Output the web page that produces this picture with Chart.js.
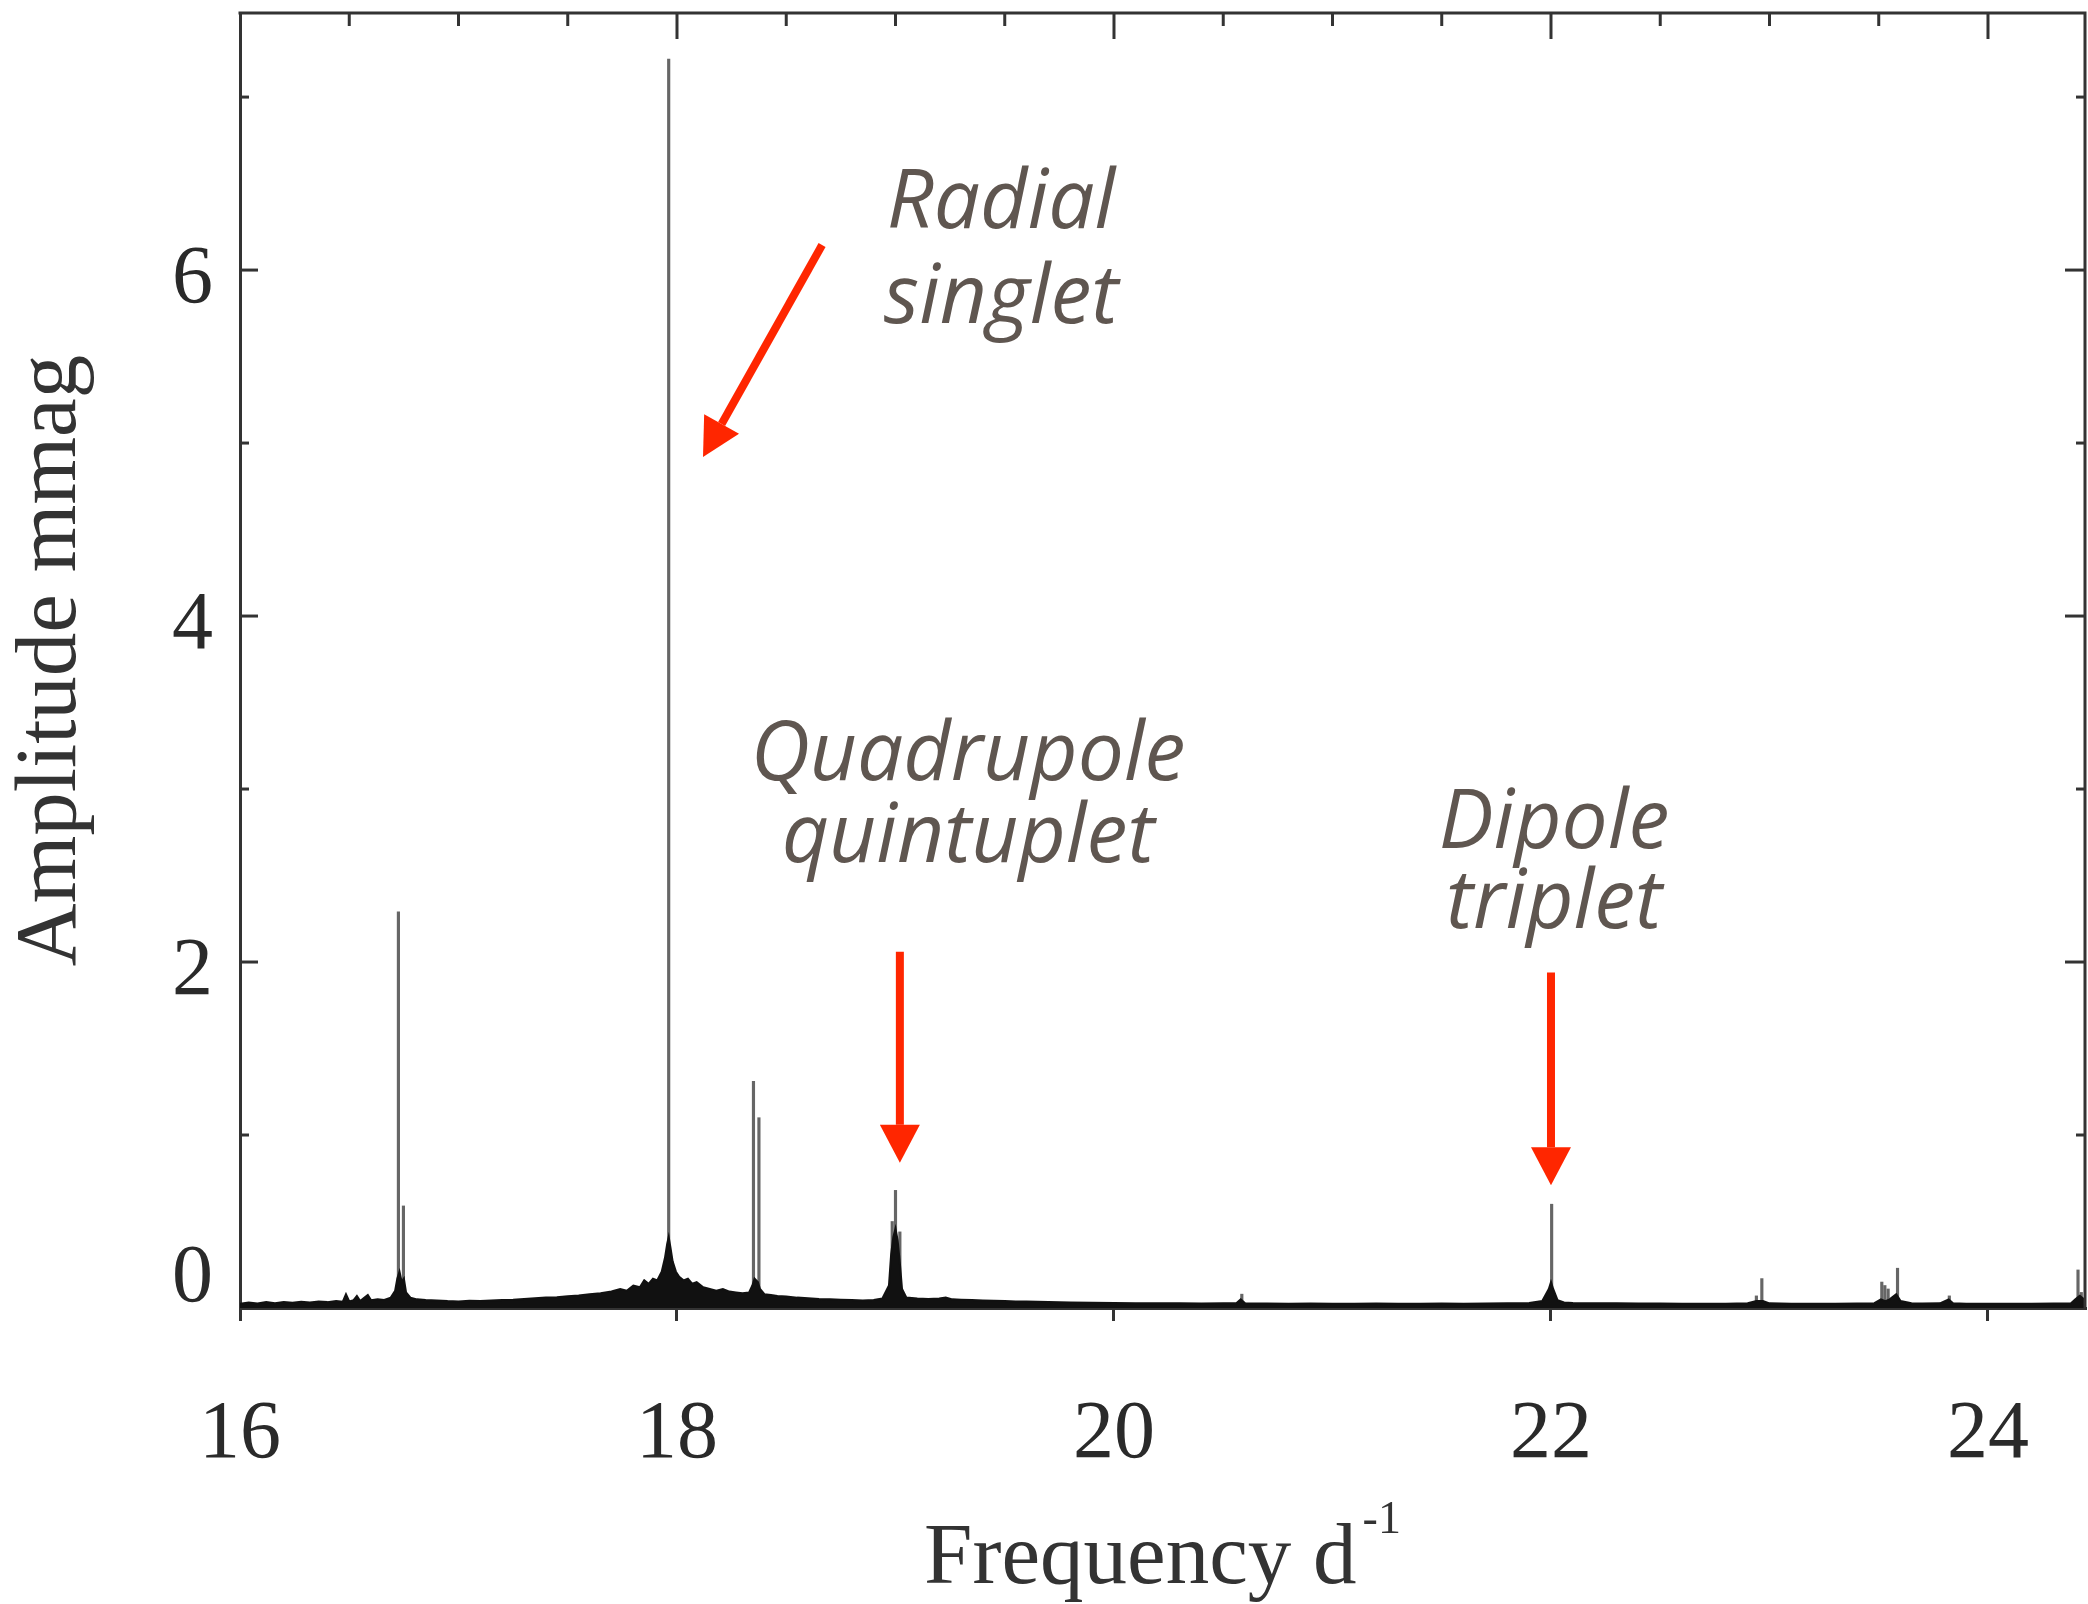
<!DOCTYPE html>
<html>
<head>
<meta charset="utf-8">
<script src="https://cdn.jsdelivr.net/npm/chart.js@4.4.0/dist/chart.umd.min.js"></script>
<style>
  html, body { margin: 0; padding: 0; background: #ffffff; }
  #wrap { width: 2088px; height: 1604px; position: relative; }
</style>
</head>
<body>
<div id="wrap"><canvas id="c"></canvas></div>
<script>
// ---------------- data ----------------
// Resolved pulsation peaks: frequency (d^-1) and amplitude (mmag)
const peakFreq = [16.725, 16.748, 17.962, 18.350, 18.375, 18.985, 19.000, 19.020, 20.585,
                  22.003, 22.940, 22.965, 23.514, 23.528, 23.543, 23.586, 23.823, 24.412, 24.427];
const peakAmp  = [2.29, 0.59, 7.22, 1.31, 1.10, 0.50, 0.68, 0.44, 0.08,
                  0.60, 0.07, 0.17, 0.15, 0.13, 0.11, 0.23, 0.07, 0.22, 0.09];

// Upper edge of the dense noise band / spectral-window skirts
const noiseFreq = [16.00,16.04,16.08,16.12,16.16,16.20,16.24,16.28,16.32,16.36,16.40,16.44,16.47,16.485,16.50,16.52,16.535,16.55,16.57,16.585,
                   16.60,16.63,16.66,16.69,16.71,16.72,16.73,16.74,16.75,16.76,16.78,16.81,16.85,16.90,16.95,17.00,17.05,17.10,17.15,17.20,
                   17.25,17.30,17.35,17.40,17.45,17.50,17.55,17.60,17.65,17.70,17.74,17.77,17.80,17.83,17.85,17.87,17.89,17.91,17.93,17.945,
                   17.955,17.962,17.97,17.98,17.995,18.01,18.03,18.05,18.07,18.09,18.12,18.15,18.18,18.21,18.24,18.27,18.30,18.33,18.345,18.355,
                   18.37,18.38,18.40,18.43,18.46,18.50,18.55,18.60,18.65,18.70,18.75,18.80,18.85,18.90,18.94,18.97,18.98,18.99,19.00,19.01,
                   19.02,19.03,19.05,19.10,19.15,19.20,19.23,19.26,19.30,19.35,19.40,19.45,19.50,19.55,19.60,19.70,19.80,19.90,20.00,20.10,
                   20.20,20.30,20.40,20.50,20.56,20.58,20.60,20.70,20.80,20.90,21.00,21.10,21.20,21.30,21.40,21.50,21.60,21.70,21.80,21.90,
                   21.96,21.99,22.00,22.01,22.03,22.06,22.10,22.20,22.30,22.40,22.50,22.60,22.70,22.80,22.90,22.94,22.97,23.00,23.10,23.20,
                   23.30,23.40,23.48,23.51,23.53,23.55,23.58,23.60,23.65,23.70,23.78,23.82,23.84,23.90,24.00,24.10,24.20,24.30,24.38,24.40,
                   24.42,24.44];
const noiseAmp  = [0.025,0.032,0.026,0.034,0.028,0.035,0.030,0.036,0.032,0.038,0.034,0.040,0.036,0.080,0.038,0.045,0.070,0.040,0.060,0.075,
                   0.045,0.050,0.046,0.060,0.100,0.170,0.210,0.150,0.170,0.090,0.060,0.050,0.046,0.044,0.040,0.038,0.042,0.040,0.044,0.046,
                   0.048,0.052,0.056,0.060,0.062,0.068,0.072,0.080,0.086,0.095,0.110,0.100,0.130,0.120,0.160,0.140,0.170,0.160,0.210,0.290,
                   0.370,0.410,0.350,0.270,0.210,0.180,0.160,0.170,0.140,0.150,0.120,0.110,0.100,0.110,0.095,0.090,0.085,0.090,0.130,0.170,
                   0.150,0.110,0.080,0.075,0.070,0.066,0.060,0.056,0.052,0.050,0.048,0.046,0.044,0.046,0.055,0.130,0.310,0.410,0.460,0.390,
                   0.260,0.110,0.060,0.055,0.052,0.055,0.060,0.050,0.048,0.046,0.044,0.042,0.040,0.038,0.037,0.035,0.032,0.030,0.029,0.028,
                   0.028,0.027,0.026,0.027,0.027,0.050,0.027,0.026,0.025,0.026,0.025,0.025,0.026,0.025,0.025,0.026,0.025,0.026,0.027,0.029,
                   0.040,0.110,0.150,0.110,0.045,0.032,0.029,0.027,0.027,0.026,0.026,0.025,0.025,0.025,0.027,0.040,0.040,0.027,0.025,0.025,
                   0.025,0.026,0.028,0.050,0.040,0.050,0.080,0.040,0.028,0.026,0.027,0.050,0.027,0.025,0.025,0.025,0.025,0.026,0.028,0.050,
                   0.070,0.050];

// Axis ticks
const xTickValues   = [16, 18, 20, 22, 24];
const xMinorTicks   = [16.5, 17, 17.5, 18.5, 19, 19.5, 20.5, 21, 21.5, 22.5, 23, 23.5, 24.5];
const yTickValues   = [0, 2, 4, 6];
const yMinorTicks   = [1, 3, 5, 7];

// Annotations (data coordinates)
const annLines  = [['Radial', 'singlet'], ['Quadrupole', 'quintuplet'], ['Dipole', 'triplet']];
const annX      = [19.483, 19.332, 22.014];
const annY1     = [6.243, 3.052, 2.659];
const annY2     = [5.694, 2.578, 2.197];
const arrowFromX = [18.664, 19.020, 22.000];
const arrowFromY = [6.145, 2.060, 1.940];
const arrowToX   = [18.119, 19.020, 22.000];
const arrowToY   = [4.919, 0.840, 0.710];

// ---------------- chart ----------------
const SERIF = "'Liberation Serif', 'DejaVu Serif', serif";
const AXIS_COLOR = '#333333';

const noisePoints = noiseFreq.map((f, i) => ({ x: f, y: noiseAmp[i] }));
const peakPoints  = peakFreq.map((f, i) => ({ x: f, y: peakAmp[i] }));

const decorPlugin = {
  id: 'decor',
  afterDraw(chart) {
    const { ctx, chartArea: a, scales: { x, y } } = chart;
    ctx.save();
    // frame: top and right
    ctx.strokeStyle = AXIS_COLOR;
    ctx.lineWidth = 3;
    ctx.lineCap = 'butt';
    ctx.beginPath();
    ctx.moveTo(a.left - 1.5, a.top);
    ctx.lineTo(a.right, a.top);
    ctx.lineTo(a.right, a.bottom + 1.5);
    ctx.stroke();
    // inward ticks on top
    const tick = (x1, y1, x2, y2) => { ctx.beginPath(); ctx.moveTo(x1, y1); ctx.lineTo(x2, y2); ctx.stroke(); };
    xTickValues.forEach(v => { const p = x.getPixelForValue(v); if (p > a.left + 2 && p < a.right - 2) tick(p, a.top, p, a.top + 26); });
    xMinorTicks.forEach(v => { const p = x.getPixelForValue(v); if (p > a.left + 2 && p < a.right - 2) tick(p, a.top, p, a.top + 13); });
    // inward ticks left and right
    yTickValues.forEach(v => { const p = y.getPixelForValue(v); if (p < a.bottom - 2) { tick(a.left, p, a.left + 18, p); tick(a.right, p, a.right - 20, p); } });
    yMinorTicks.forEach(v => { const p = y.getPixelForValue(v); tick(a.left, p, a.left + 9, p); tick(a.right, p, a.right - 9, p); });

    // x axis title with superscript
    const main = 'Frequency d';
    const sup = '-1';
    ctx.fillStyle = AXIS_COLOR;
    ctx.textBaseline = 'alphabetic';
    ctx.textAlign = 'left';
    ctx.font = '87px ' + SERIF;
    const w1 = ctx.measureText(main).width;
    ctx.font = '46px ' + SERIF;
    const w2 = ctx.measureText(sup).width;
    const total = w1 + 6 + w2;
    const cx = (a.left + a.right) / 2;
    const base = x.bottom - 21;
    ctx.font = '87px ' + SERIF;
    ctx.fillText(main, cx - total / 2, base);
    ctx.font = '46px ' + SERIF;
    ctx.fillText(sup, cx - total / 2 + w1 + 6, base - 50);

    // annotations
    ctx.fillStyle = '#5f5650';
    ctx.font = "italic 500 82px 'Open Sans', Lato, sans-serif";
    ctx.textAlign = 'center';
    annLines.forEach((lines, i) => {
      const px = x.getPixelForValue(annX[i]);
      ctx.fillText(lines[0], px, y.getPixelForValue(annY1[i]));
      ctx.fillText(lines[1], px, y.getPixelForValue(annY2[i]));
    });

    // arrows
    ctx.strokeStyle = '#ff2600';
    ctx.fillStyle = '#ff2600';
    ctx.lineWidth = 8;
    arrowFromX.forEach((fx, i) => {
      const x0 = x.getPixelForValue(fx), y0 = y.getPixelForValue(arrowFromY[i]);
      const x1 = x.getPixelForValue(arrowToX[i]), y1 = y.getPixelForValue(arrowToY[i]);
      const ang = Math.atan2(y1 - y0, x1 - x0);
      const headLen = 38, headHalf = 20;
      const bx = x1 - headLen * Math.cos(ang), by = y1 - headLen * Math.sin(ang);
      ctx.beginPath(); ctx.moveTo(x0, y0); ctx.lineTo(bx, by); ctx.stroke();
      ctx.beginPath();
      ctx.moveTo(x1, y1);
      ctx.lineTo(bx + headHalf * Math.sin(ang), by - headHalf * Math.cos(ang));
      ctx.lineTo(bx - headHalf * Math.sin(ang), by + headHalf * Math.cos(ang));
      ctx.closePath();
      ctx.fill();
    });
    ctx.restore();
  }
};

new Chart(document.getElementById('c'), {
  type: 'bar',
  data: {
    datasets: [
      {
        type: 'line',
        label: 'Noise',
        data: noisePoints,
        borderColor: '#111111',
        backgroundColor: '#111111',
        borderWidth: 2,
        pointRadius: 0,
        tension: 0,
        fill: 'origin',
        order: 0
      },
      {
        type: 'bar',
        label: 'Peaks',
        data: peakPoints,
        backgroundColor: '#666666',
        borderWidth: 0,
        barThickness: 2.5,
        order: 1
      }
    ]
  },
  options: {
    responsive: true,
    maintainAspectRatio: false,
    animation: false,
    devicePixelRatio: 1,
    layout: { padding: { top: 13, right: 3, left: 0, bottom: 0 } },
    plugins: { legend: { display: false }, tooltip: { enabled: false }, title: { display: false } },
    scales: {
      x: {
        type: 'linear',
        min: 16,
        max: 24.444,
        offset: false,
        afterFit: s => { s.height = 296; s.paddingLeft = 0; s.paddingRight = 0; },
        afterBuildTicks: s => { s.ticks = xTickValues.map(v => ({ value: v })); },
        grid: { display: true, offset: false, drawOnChartArea: false, drawTicks: true, tickLength: 13, tickWidth: 3, tickColor: AXIS_COLOR, color: AXIS_COLOR, lineWidth: 3 },
        border: { display: true, color: AXIS_COLOR, width: 3 },
        ticks: { font: { family: SERIF, size: 82 }, color: '#2a2a2a', padding: 65, maxRotation: 0, autoSkip: false }
      },
      y: {
        type: 'linear',
        min: 0,
        max: 7.486,
        afterFit: s => { s.width = 240; s.paddingTop = 0; s.paddingBottom = 0; },
        afterBuildTicks: s => { s.ticks = yTickValues.map(v => ({ value: v })); },
        grid: { display: false, drawTicks: false },
        border: { display: true, color: AXIS_COLOR, width: 3 },
        ticks: {
          font: { family: SERIF, size: 82, lineHeight: 0.95 }, color: '#2a2a2a', padding: 27, labelOffset: 10,
          callback: v => (v === 0 ? ['0', ''] : String(v))
        },
        title: { display: true, text: 'Amplitude mmag', font: { family: SERIF, size: 87 }, color: AXIS_COLOR, padding: { top: 0, bottom: 0 } }
      }
    }
  },
  plugins: [decorPlugin]
});
</script>
</body>
</html>
